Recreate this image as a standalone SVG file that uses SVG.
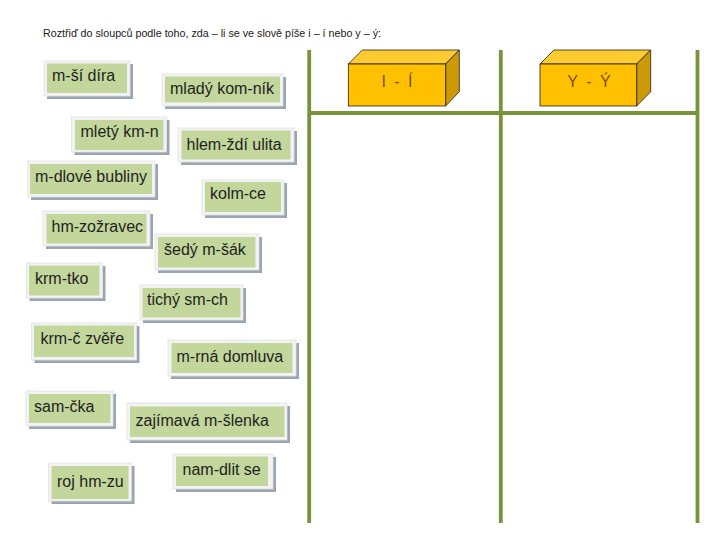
<svg xmlns="http://www.w3.org/2000/svg" width="720" height="540" viewBox="0 0 720 540">
<style>
.bg{fill:#ffffff}
.title{font-family:"Liberation Sans","DejaVu Sans",sans-serif;font-size:10px;fill:#1a1a1a}
.shadow{fill:#9aa5b1}
.frame{fill:#f3f3f3;stroke:#e2e2e2;stroke-width:0.8}
.card{fill:#c3d69b}
.word{font-family:"Liberation Sans",Arial,sans-serif;font-size:16px;fill:#1f1f1f}
.col{stroke:#77933c;stroke-width:3.8;fill:none}
.front{fill:#ffc000;stroke:#222;stroke-width:0.8}
.top{fill:#ffcb2e;stroke:#222;stroke-width:0.8}
.side{fill:#cc9a06;stroke:#222;stroke-width:0.8}
.cubetxt{font-family:"Liberation Sans",Arial,sans-serif;font-size:16px;fill:#7a4f12;text-anchor:middle;letter-spacing:2px}
</style>
<rect class="bg" x="0" y="0" width="720" height="540"/>
<text class="title" x="43" y="37" textLength="338" lengthAdjust="spacingAndGlyphs">Roztřiď do sloupců podle toho, zda – li se ve slově píše i – í nebo y – ý:</text>

<g id="columns">
  <line class="col" x1="309.2" y1="50" x2="309.2" y2="523"/>
  <line class="col" x1="500.8" y1="50" x2="500.8" y2="523"/>
  <line class="col" x1="697.5" y1="50" x2="697.5" y2="523"/>
  <line class="col" x1="311" y1="113" x2="697.5" y2="113"/>
</g>

<g id="cube-i">
  <polygon class="top" points="348.3,64 362.3,50 459.3,50 445.7,64"/>
  <polygon class="side" points="445.7,64 459.3,50 459.3,91.7 445.7,106"/>
  <rect class="front" x="348.3" y="64" width="97.4" height="42"/>
  <text class="cubetxt" x="398" y="87">I - Í</text>
</g>
<g id="cube-y">
  <polygon class="top" points="540,64 554,50 650.7,50 636.7,64"/>
  <polygon class="side" points="636.7,64 650.7,50 650.7,91.7 636.7,106"/>
  <rect class="front" x="540" y="64" width="96.7" height="42"/>
  <text class="cubetxt" x="590" y="87">Y - Ý</text>
</g>

<g id="w-msi-dira">
  <rect class="shadow" x="47" y="64" width="86" height="35"/>
  <rect class="frame" x="44" y="61" width="86" height="35"/>
  <rect class="card" x="47" y="63.5" width="80" height="29.5"/>
  <text class="word" x="52" y="81">m-ší díra</text>
</g>
<g id="w-mlady-komnik">
  <rect class="shadow" x="165" y="77" width="121" height="32"/>
  <rect class="frame" x="162" y="74" width="121" height="32"/>
  <rect class="card" x="165" y="76.5" width="115" height="26"/>
  <text class="word" x="170" y="93.5">mladý kom-ník</text>
</g>
<g id="w-mlety-kmn">
  <rect class="shadow" x="74.5" y="120" width="95" height="35"/>
  <rect class="frame" x="71.5" y="117" width="95" height="35"/>
  <rect class="card" x="75" y="120" width="88.5" height="30"/>
  <text class="word" x="80.5" y="136.5">mletý km-n</text>
</g>
<g id="w-hlemzdi-ulita">
  <rect class="shadow" x="181" y="131" width="116" height="34"/>
  <rect class="frame" x="178" y="128" width="116" height="34"/>
  <rect class="card" x="181.5" y="130.5" width="109" height="29"/>
  <text class="word" x="186.5" y="150">hlem-ždí ulita</text>
</g>
<g id="w-mdlove-bubliny">
  <rect class="shadow" x="31" y="164" width="127" height="36"/>
  <rect class="frame" x="28" y="161" width="127" height="36"/>
  <rect class="card" x="30" y="164" width="122" height="30"/>
  <text class="word" x="35" y="182">m-dlové bubliny</text>
</g>
<g id="w-kolmce">
  <rect class="shadow" x="205" y="183" width="82" height="35"/>
  <rect class="frame" x="202" y="180" width="82" height="35"/>
  <rect class="card" x="205" y="182" width="76" height="30"/>
  <text class="word" x="210" y="198.5">kolm-ce</text>
</g>
<g id="w-hmzozravec">
  <rect class="shadow" x="46" y="214" width="107" height="35"/>
  <rect class="frame" x="43" y="211" width="107" height="35"/>
  <rect class="card" x="46.5" y="214" width="100" height="29.5"/>
  <text class="word" x="51.5" y="232">hm-zožravec</text>
</g>
<g id="w-sedy-msak">
  <rect class="shadow" x="158" y="237" width="104" height="36"/>
  <rect class="frame" x="155" y="234" width="104" height="36"/>
  <rect class="card" x="158" y="237" width="97.5" height="30.5"/>
  <text class="word" x="164" y="255">šedý m-šák</text>
</g>
<g id="w-krmtko">
  <rect class="shadow" x="29.5" y="266" width="76" height="35"/>
  <rect class="frame" x="26.5" y="263" width="76" height="35"/>
  <rect class="card" x="29" y="265.5" width="70.5" height="30"/>
  <text class="word" x="35" y="284">krm-tko</text>
</g>
<g id="w-tichy-smch">
  <rect class="shadow" x="143" y="288" width="103" height="35"/>
  <rect class="frame" x="140" y="285" width="103" height="35"/>
  <rect class="card" x="142.5" y="288" width="98" height="29.5"/>
  <text class="word" x="147" y="305">tichý sm-ch</text>
</g>
<g id="w-krmc-zvere">
  <rect class="shadow" x="34.5" y="326" width="105" height="37"/>
  <rect class="frame" x="31.5" y="323" width="105" height="37"/>
  <rect class="card" x="34" y="325.5" width="100" height="31.5"/>
  <text class="word" x="40.5" y="344">krm-č zvěře</text>
</g>
<g id="w-mrna-domluva">
  <rect class="shadow" x="171" y="343" width="128" height="36"/>
  <rect class="frame" x="168" y="340" width="128" height="36"/>
  <rect class="card" x="171.5" y="343" width="121" height="30"/>
  <text class="word" x="176.5" y="361.5">m-rná domluva</text>
</g>
<g id="w-samcka">
  <rect class="shadow" x="29" y="394" width="87" height="35"/>
  <rect class="frame" x="26" y="391" width="87" height="35"/>
  <rect class="card" x="29" y="394" width="81.5" height="29"/>
  <text class="word" x="34" y="412">sam-čka</text>
</g>
<g id="w-zajimava-mslenka">
  <rect class="shadow" x="130" y="406" width="160" height="37"/>
  <rect class="frame" x="127" y="403" width="160" height="37"/>
  <rect class="card" x="130" y="406.5" width="154.5" height="30.5"/>
  <text class="word" x="135.5" y="426">zajímavá m-šlenka</text>
</g>
<g id="w-roj-hmzu">
  <rect class="shadow" x="51.5" y="466" width="83" height="38"/>
  <rect class="frame" x="48.5" y="463" width="83" height="38"/>
  <rect class="card" x="51.5" y="466" width="77" height="33"/>
  <text class="word" x="57" y="487">roj hm-zu</text>
</g>
<g id="w-namdlit-se">
  <rect class="shadow" x="176" y="457" width="100" height="35"/>
  <rect class="frame" x="173" y="454" width="100" height="35"/>
  <rect class="card" x="176" y="456.5" width="92" height="29.5"/>
  <text class="word" x="182.5" y="474.5">nam-dlit se</text>
</g>
</svg>
